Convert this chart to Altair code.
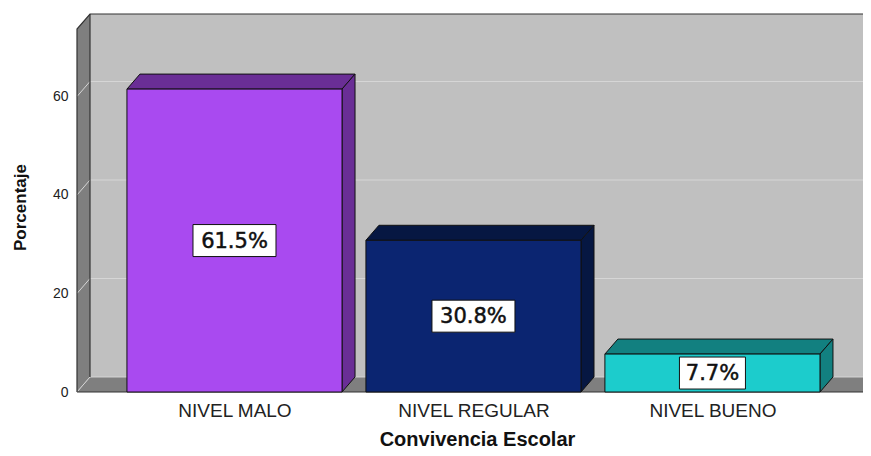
import json
import altair as alt
import pandas as pd

# ---- data ----
categories = ["NIVEL MALO", "NIVEL REGULAR", "NIVEL BUENO"]
values = [61.5, 30.8, 7.7]
labels = ["61.5%", "30.8%", "7.7%"]
front_colors = ["#a94af0", "#0b2571", "#1ccccc"]
shade_colors = ["#6a2e96", "#061742", "#128080"]
y_ticks = [0, 20, 40, 60]

# ---- layout / 3D depth constants (style) ----
X_MIN, X_MAX = -0.659, 2.630
Y_MAX = 76.75
HW = 0.45          # half bar width, in category units
DX = 0.0544        # depth offset in x (category units)
DY = 3.05          # depth offset in y (value units)
Y_TOP_FRONT = Y_MAX - DY
FONT = "Liberation Sans"

xs = alt.Scale(domain=[X_MIN, X_MAX], nice=False, zero=False)
ys = alt.Scale(domain=[0, Y_MAX], nice=False, zero=False)
lab_expr = json.dumps(categories) + "[datum.value]"
x_axis = alt.Axis(values=[0, 1, 2], labelExpr=lab_expr, domain=False, ticks=False,
                  grid=False, labelFont=FONT, labelFontSize=19, labelColor="#222222",
                  labelPadding=9, title="Convivencia Escolar", titleFont=FONT,
                  titleFontSize=20, titleFontWeight="bold", titleColor="#111111",
                  titleX=400, titleY=53, titleBaseline="alphabetic", titleAnchor="middle",
                  titleAlign="center")
y_axis = alt.Axis(values=y_ticks, domain=False, ticks=False, grid=False,
                  labelFont=FONT, labelFontSize=14, labelColor="#222222", labelPadding=9,
                  title="Porcentaje", titleFont=FONT, titleFontSize=17,
                  titleFontWeight="bold", titleColor="#111111", titleX=-57, titleY=193,
                  titleAngle=270, titleBaseline="middle", titleAlign="center")


def X(f):
    return alt.X(f"{f}:Q", scale=xs, axis=x_axis)


def Y(f):
    return alt.Y(f"{f}:Q", scale=ys, axis=y_axis, stack=None)


# back wall
back = pd.DataFrame([{"x": X_MIN + DX, "x2": X_MAX, "y": DY, "y2": Y_MAX}])
back_l = alt.Chart(back).mark_rect(fill="#c0c0c0").encode(
    x=X("x"), x2="x2", y=Y("y"), y2="y2")

# left wall and floor (parallelograms as areas)
walls = pd.DataFrame([
    {"id": "left", "x": X_MIN, "y": 0, "y2": Y_TOP_FRONT},
    {"id": "left", "x": X_MIN + DX, "y": DY, "y2": Y_MAX},
    {"id": "floor", "x": X_MIN, "y": 0, "y2": 0},
    {"id": "floor", "x": X_MIN + DX, "y": 0, "y2": DY},
    {"id": "floor", "x": X_MAX, "y": 0, "y2": DY},
])
walls_l = alt.Chart(walls).mark_area(fill="#7f7f7f").encode(
    x=X("x"), y=Y("y"), y2="y2", detail="id:N")

# gridlines (diagonal on left wall, horizontal on back wall)
grid_rows = []
for t in y_ticks:
    grid_rows += [
        {"g": t, "k": 0, "x": X_MIN, "y": t},
        {"g": t, "k": 1, "x": X_MIN + DX, "y": t + DY},
        {"g": t, "k": 2, "x": X_MAX, "y": t + DY},
    ]
grid_l = alt.Chart(pd.DataFrame(grid_rows)).mark_line(
    color="#d6d6d6", strokeWidth=1).encode(
    x=X("x"), y=Y("y"), detail="g:N", order="k:Q")

# frame edges
edges = pd.DataFrame([
    {"s": "outline", "k": 0, "x": X_MIN, "y": 0},
    {"s": "outline", "k": 1, "x": X_MIN, "y": Y_TOP_FRONT},
    {"s": "outline", "k": 2, "x": X_MIN + DX, "y": Y_MAX},
    {"s": "outline", "k": 3, "x": X_MAX, "y": Y_MAX},
    {"s": "inner", "k": 0, "x": X_MIN + DX, "y": DY},
    {"s": "inner", "k": 1, "x": X_MIN + DX, "y": Y_MAX},
    {"s": "base", "k": 0, "x": X_MIN, "y": 0},
    {"s": "base", "k": 1, "x": X_MAX, "y": 0},
])
edges_l = alt.Chart(edges).mark_line(color="#333333", strokeWidth=1.2).encode(
    x=X("x"), y=Y("y"), detail="s:N", order="k:Q")

# bars
front = pd.DataFrame({
    "x": [i - HW for i in range(3)], "x2": [i + HW for i in range(3)],
    "y": [0] * 3, "y2": values, "fill": front_colors})
front_l = alt.Chart(front).mark_rect(stroke="#111111", strokeWidth=1).encode(
    x=X("x"), x2="x2", y=Y("y"), y2="y2", fill=alt.Fill("fill:N", scale=None))

faces = []
for i, (v, c) in enumerate(zip(values, shade_colors)):
    top = f"top{i}"
    faces += [
        {"id": top, "x": i - HW, "y": v, "y2": v, "fill": c},
        {"id": top, "x": i - HW + DX, "y": v, "y2": v + DY, "fill": c},
        {"id": top, "x": i + HW, "y": v, "y2": v + DY, "fill": c},
        {"id": top, "x": i + HW + DX, "y": v + DY, "y2": v + DY, "fill": c},
    ]
    side = f"side{i}"
    faces += [
        {"id": side, "x": i + HW, "y": 0, "y2": v, "fill": c},
        {"id": side, "x": i + HW + DX, "y": DY, "y2": v + DY, "fill": c},
    ]
faces_l = alt.Chart(pd.DataFrame(faces)).mark_area(
    stroke="#111111", strokeWidth=1, interpolate="linear").encode(
    x=X("x"), y=Y("y"), y2="y2", detail="id:N",
    fill=alt.Fill("fill:N", scale=None))

# value labels with white boxes
lab_rows = []
for i, (v, t) in enumerate(zip(values, labels)):
    w = 17 * len(t) - 2
    h = 32
    a = h / w
    lab_rows.append({"x": i, "y": v / 2, "label": t, "size": w * w,
                     "shape": f"M-1,-{a:.4f}L1,-{a:.4f}L1,{a:.4f}L-1,{a:.4f}Z"})
labs = pd.DataFrame(lab_rows)
box_l = alt.Chart(labs).mark_point(filled=True, fill="white", stroke="#111111",
                                   strokeWidth=1, opacity=1).encode(
    x=X("x"), y=Y("y"), shape=alt.Shape("shape:N", scale=None),
    size=alt.Size("size:Q", scale=None))
text_l = alt.Chart(labs).mark_text(font="DejaVu Sans", fontSize=21, color="#111111",
                                   stroke="#111111", strokeWidth=0.5,
                                   baseline="middle", align="center", dy=1).encode(
    x=X("x"), y=Y("y"), text="label:N")

chart = alt.layer(back_l, walls_l, grid_l, edges_l, faces_l, front_l, box_l, text_l).properties(
    width=786, height=378,
    autosize=alt.AutoSizeParams(type="none"),
    padding={"left": 69, "top": 6, "right": 0, "bottom": 56},
    background="white",
).configure_view(strokeWidth=0)

chart.save("out.html", embed_options={"renderer": "svg", "actions": False})
